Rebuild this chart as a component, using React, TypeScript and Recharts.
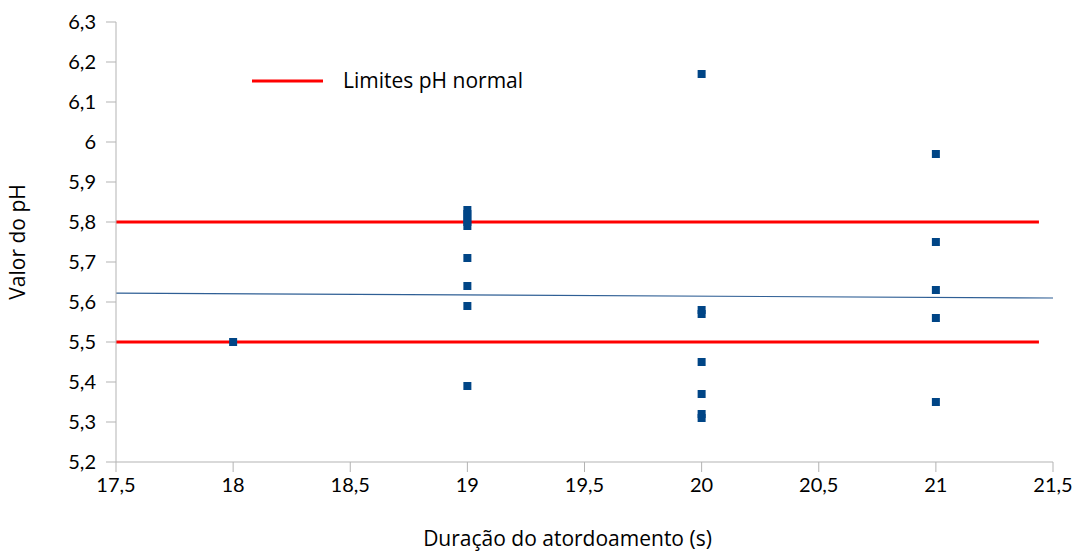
import React from 'react'
import {
  ScatterChart, Scatter, XAxis, YAxis, ZAxis, ReferenceLine,
} from 'recharts'

const duration = [18, 19, 19, 19, 19, 19, 19, 19, 19, 19, 20, 20, 20, 20, 20, 20, 20, 21, 21, 21, 21, 21]
const ph = [5.5, 5.83, 5.82, 5.81, 5.8, 5.79, 5.71, 5.64, 5.59, 5.39, 6.17, 5.58, 5.57, 5.45, 5.37, 5.32, 5.31, 5.97, 5.75, 5.63, 5.56, 5.35]

const xTicks = [17.5, 18, 18.5, 19, 19.5, 20, 20.5, 21, 21.5]
const yTicks = [5.2, 5.3, 5.4, 5.5, 5.6, 5.7, 5.8, 5.9, 6, 6.1, 6.2, 6.3]

// normal pH limits, drawn from x 17.5 to 21.44
const phLimits = [5.5, 5.8]
const limitX = [17.5, 21.44]
// trend line end points (x, y)
const trendX = [17.5, 21.5]
const trendY = [5.622, 5.61]

const points = duration.map((d, i) => ({ x: d, y: ph[i] }))

const fmt = (v: number) => String(v).replace('.', ',')
const tickFont = 'Lato, sans-serif'
const labelFont = '"Open Sans", Lato, sans-serif'
const axisColor = '#b3b3b3'

export default function App() {
  return (
    <div style={{ position: 'absolute', left: 0, top: 0, width: 1076, height: 555, background: '#fff' }}>
      <ScatterChart width={1076} height={555} margin={{ top: 22, right: 23, bottom: 0, left: 0 }}>
        <XAxis
          type="number"
          dataKey="x"
          domain={[17.5, 21.5]}
          ticks={xTicks}
          tickFormatter={fmt}
          height={93}
          stroke={axisColor}
          tickSize={10}
          tickMargin={6}
          tick={{ fill: '#000', fontSize: 20, fontFamily: tickFont }}
          label={{ value: 'Duração do atordoamento (s)', position: 'insideBottom', offset: 9, fill: '#000', fontSize: 21, fontFamily: labelFont, dx: -17 }}
        />
        <XAxis
          xAxisId="top"
          orientation="top"
          type="number"
          domain={[17.5, 21.5]}
          height={0}
          tick={false}
          tickLine={false}
          stroke={axisColor}
        />
        <YAxis
          type="number"
          dataKey="y"
          domain={[5.2, 6.3]}
          ticks={yTicks}
          tickFormatter={fmt}
          width={116}
          stroke={axisColor}
          tickSize={10}
          tickMargin={10}
          tick={{ fill: '#000', fontSize: 20, fontFamily: tickFont }}
          label={{ value: 'Valor do pH', angle: -90, position: 'insideLeft', offset: 18, fill: '#000', fontSize: 21, fontFamily: labelFont, style: { textAnchor: 'middle' } }}
        />
        <YAxis
          yAxisId="right"
          orientation="right"
          type="number"
          domain={[5.2, 6.3]}
          width={0}
          tick={false}
          tickLine={false}
          stroke={axisColor}
        />
        <ZAxis range={[80, 80]} />
        {phLimits.map((v) => (
          <ReferenceLine
            key={v}
            segment={[{ x: limitX[0], y: v }, { x: limitX[1], y: v }]}
            stroke="#ff0000"
            strokeWidth={3}
          />
        ))}
        <ReferenceLine
          segment={[{ x: trendX[0], y: trendY[0] }, { x: trendX[1], y: trendY[1] }]}
          stroke="#2f5f95"
          strokeWidth={1.2}
        />
        <Scatter data={points} fill="#004586" shape="square" isAnimationActive={false} />
      </ScatterChart>
      <div style={{ position: 'absolute', left: 250, top: 66, width: 320, height: 30 }}>
        <svg width={320} height={30}>
          <line x1={2} y1={15} x2={73} y2={15} stroke="#ff0000" strokeWidth={3} />
          <text x={93} y={22} fontSize={21} fill="#000" fontFamily={labelFont}>Limites pH normal</text>
        </svg>
      </div>
    </div>
  )
}
